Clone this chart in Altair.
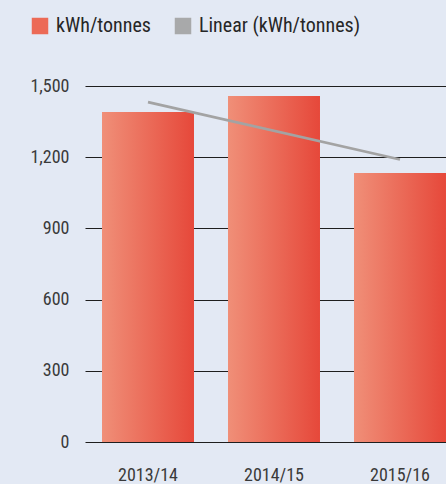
import altair as alt
import pandas as pd

# Energy intensity per financial year
periods = ["2013/14", "2014/15", "2015/16"]
kwh_per_tonne = [1390, 1458, 1133]

# Linear trend line end points
trend_periods = ["2013/14", "2015/16"]
trend_values = [1432, 1190]

# Legend entries
series_names = ["kWh/tonnes", "Linear (kWh/tonnes)"]
series_colors = ["#EC6A56", "#A8A9AA"]

FONT = "Roboto Condensed, Liberation Sans Narrow, sans-serif"
TEXT = "#3a3a3a"

bars_df = pd.DataFrame({"period": periods, "value": kwh_per_tonne})
trend_df = pd.DataFrame({"period": trend_periods, "value": trend_values})
legend_df = pd.DataFrame({"series": series_names})

x_enc = alt.X(
    "period:N",
    sort=periods,
    scale=alt.Scale(domain=periods, range=[0, 378], paddingInner=0.27, paddingOuter=0.135),
    axis=alt.Axis(
        title=None, labelAngle=0, ticks=False, domain=False, grid=False,
        labelPadding=24, labelFontSize=18, labelColor=TEXT, labelFont=FONT,
    ),
)
y_enc = alt.Y(
    "value:Q",
    scale=alt.Scale(domain=[0, 1500], nice=False),
    axis=alt.Axis(
        title=None, values=[0, 300, 600, 900, 1200, 1500], format=",d",
        ticks=False, domain=False, grid=True, gridColor="#1e1e1e", gridWidth=1.2,
        labelPadding=16, labelFontSize=18, labelColor=TEXT, labelFont=FONT,
    ),
)

bar_fill = alt.Gradient(
    gradient="linear",
    stops=[
        alt.GradientStop(color="#F08F78", offset=0),
        alt.GradientStop(color="#E6483A", offset=1),
    ],
    x1=0, x2=1, y1=0, y2=0,
)

bars = alt.Chart(bars_df).mark_bar(fill=bar_fill, strokeWidth=0).encode(x=x_enc, y=y_enc)

trend = alt.Chart(trend_df).mark_line(color="#A3A3A3", strokeWidth=2.6).encode(
    x=alt.X("period:N", sort=periods),
    y="value:Q",
)

# Empty layer that only carries the shared legend
legend_layer = (
    alt.Chart(legend_df)
    .mark_square()
    .encode(
        color=alt.Color(
            "series:N",
            scale=alt.Scale(domain=series_names, range=series_colors),
            legend=alt.Legend(
                title=None, orient="none", direction="horizontal",
                legendX=-55, legendY=-70,
                symbolType="square", symbolSize=272, symbolStrokeWidth=0,
                symbolOpacity=1, labelOffset=6, columnPadding=22,
                labelFontSize=20, labelColor="#262626", labelFont=FONT,
                labelLimit=300,
            ),
        )
    )
    .transform_filter("false")
)

chart = (
    alt.layer(bars, trend, legend_layer)
    .properties(
        width=361,
        height=356,
        background="#E3E9F4",
        padding={"left": 85, "top": 86, "right": 0, "bottom": 42},
        autosize=alt.AutoSizeParams(type="none"),
    )
    .configure_view(stroke=None)
)

chart.save("out.html", embed_options={"renderer": "svg", "actions": False})
